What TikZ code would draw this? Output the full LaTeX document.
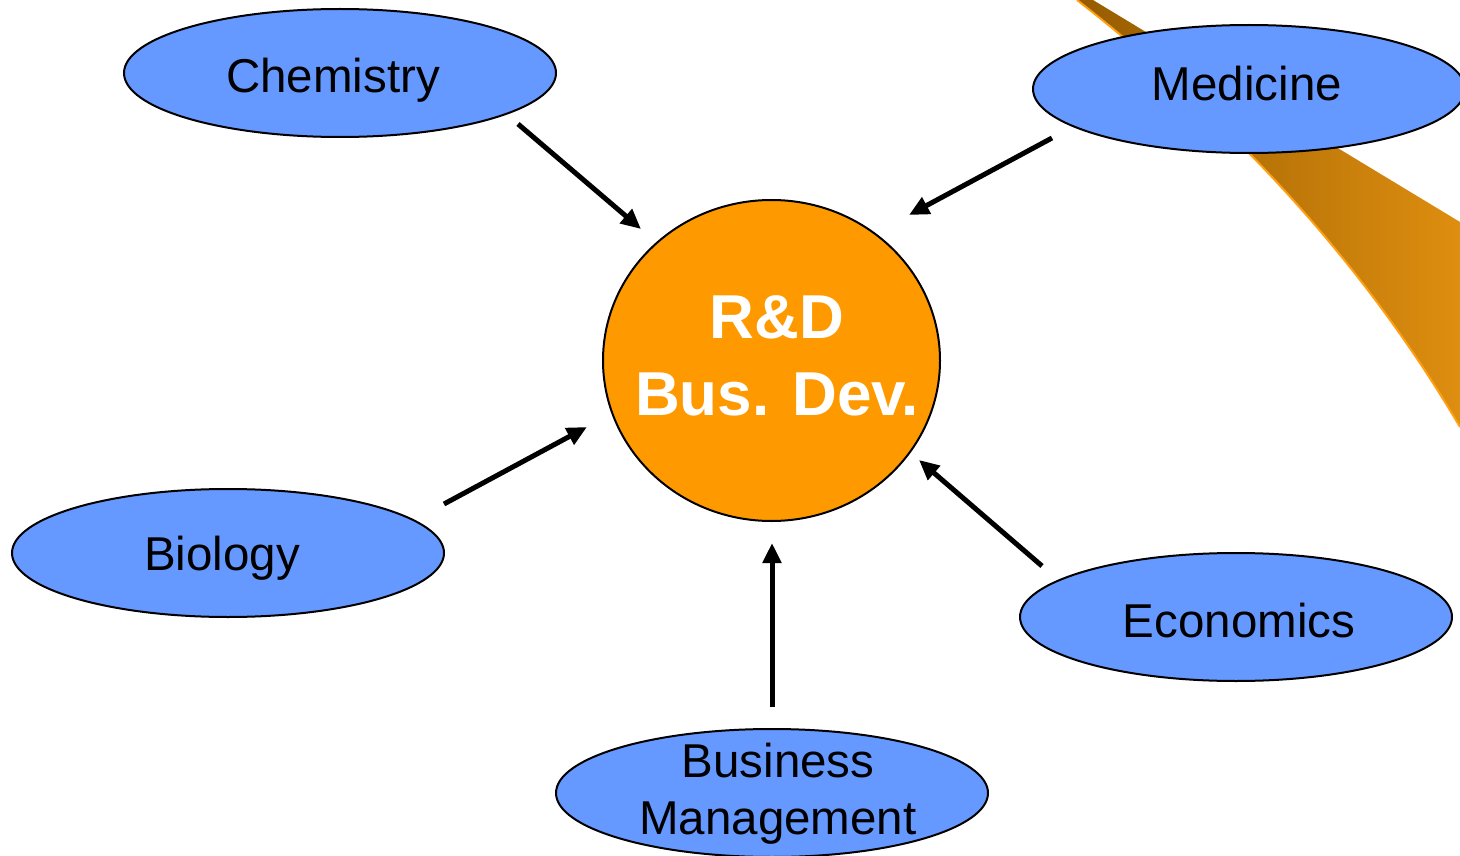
\documentclass[tikz,border=0pt]{standalone}
\usepackage{fontspec}
\setmainfont{Liberation Sans}
\usetikzlibrary{shapes.geometric,arrows.meta}
\definecolor{blueFill}{RGB}{102,153,255}
\definecolor{orangeFill}{RGB}{255,153,0}
\definecolor{swooshL}{RGB}{150,92,0}
\definecolor{swooshR}{RGB}{222,142,16}
\definecolor{swooshEdge}{RGB}{255,160,20}
\tikzset{
  topic/.style={ellipse, draw=black, line width=2pt, fill=blueFill,
    minimum width=432pt, minimum height=128pt, inner sep=0pt},
  hub/.style={ellipse, draw=black, line width=2pt, fill=orangeFill,
    minimum width=337pt, minimum height=321pt, inner sep=0pt},
  lbl/.style={font=\fontsize{47.5}{57}\selectfont, text=black, inner sep=0pt, anchor=base},
  hublbl/.style={font=\fontsize{62}{76}\selectfont\bfseries, text=white, inner sep=0pt, anchor=base},
  feed/.style={line width=5pt, -{Triangle[length=20pt,width=18pt]}}
}
\begin{document}
\begin{tikzpicture}[x=1pt,y=-1pt]
\useasboundingbox (0,0) rectangle (1460,856);
% swoosh
\shade[left color=swooshL, right color=swooshR]
  (1077,0) -- (1093,0) -- (1460,222) -- (1460,427)
  .. controls (1360,257) and (1227,117) .. (1077,0) -- cycle;
\draw[swooshEdge, line width=2pt] (1460,427) .. controls (1360,257) and (1227,117) .. (1077,0);
% shapes
\node[hub] (rd) at (771.5,360.5) {};
\node[topic] (chem) at (340,73) {};
\node[topic] (med) at (1249,89) {};
\node[topic] (bio) at (228,553) {};
\node[topic] (eco) at (1236,617) {};
\node[topic] (bus) at (772,793) {};
% texts
\node[hublbl] (rdA) at ([xshift=5.5pt, yshift=22.5pt]rd.center) {R\&D};
\node[hublbl] (rdB) at ([xshift=5.5pt, yshift=-54.5pt]rd.center) {Bus. Dev.};
\node[lbl] (chemT) at ([xshift=-7pt, yshift=-20pt]chem.center) {Chemistry};
\node[lbl] (medT) at ([xshift=-2pt, yshift=-12pt]med.center) {Medicine};
\node[lbl] (bioT) at ([xshift=-6pt, yshift=-17.5pt]bio.center) {Biology};
\node[lbl] (ecoT) at ([xshift=3pt, yshift=-20pt]eco.center) {Economics};
\node[lbl] (busA) at ([xshift=6pt, yshift=16pt]bus.center) {Business};
\node[lbl] (busB) at ([xshift=6pt, yshift=-41pt]bus.center) {Management};
% arrow endpoints
\coordinate (chemS) at (518,124);
\coordinate (chemE) at (641,229);
\coordinate (medS) at (1052,138);
\coordinate (medE) at (909,215);
\coordinate (bioS) at (444,504);
\coordinate (bioE) at (587,427);
\coordinate (ecoS) at (1042,566);
\coordinate (ecoE) at (919,460);
\coordinate (busS) at (772,707);
\coordinate (busE) at (772,543);
\draw[feed] (chemS) -- (chemE);
\draw[feed] (medS) -- (medE);
\draw[feed] (bioS) -- (bioE);
\draw[feed] (ecoS) -- (ecoE);
\draw[feed] (busS) -- (busE);
\end{tikzpicture}
\end{document}
